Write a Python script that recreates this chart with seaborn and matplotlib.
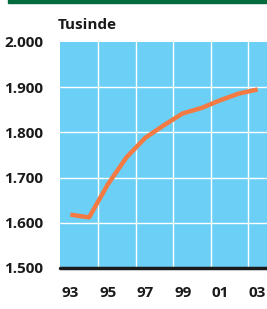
import matplotlib
matplotlib.use("Agg")
import matplotlib.pyplot as plt
import seaborn as sns
import pandas as pd

years = [93, 94, 95, 96, 97, 98, 99, 100, 101, 102, 103]
values = [1618, 1612, 1685, 1745, 1788, 1816, 1842, 1854, 1871, 1886, 1895]
ytick_vals = [1500, 1600, 1700, 1800, 1900, 2000]
ytick_labels = ["1.500", "1.600", "1.700", "1.800", "1.900", "2.000"]
xtick_vals = [93, 95, 97, 99, 101, 103]
xtick_labels = ["93", "95", "97", "99", "01", "03"]
unit_label = "Tusinde"

df = pd.DataFrame({"year": years, "value": values})

sns.set_theme(style="white")
plt.rcParams["font.family"] = ["Open Sans", "DejaVu Sans"]

fig = plt.figure(figsize=(2.67, 3.09), dpi=100)
ax = fig.add_axes([0.225, 0.1327, 0.775, 0.7314])
ax.set_facecolor("#6CCFF6")

sns.lineplot(data=df, x="year", y="value", ax=ax, color="#F47A44", linewidth=3.2,
             solid_capstyle="butt")

ax.set_xlim(92.45, 103.5)
ax.set_ylim(1500, 2000)
for x in [94.5, 96.5, 98.5, 100.5, 102.5]:
    ax.axvline(x, color="white", linewidth=1.0, zorder=0.5)
for y in [1600, 1700, 1800, 1900]:
    ax.axhline(y, color="white", linewidth=1.0, zorder=0.5)
ax.axhline(1500, color="#1a1a1a", linewidth=2.5, zorder=3, clip_on=False)

ax.set_yticks(ytick_vals)
ax.set_yticklabels(ytick_labels, fontsize=11, fontweight="bold", color="#1a1a1a")
ax.set_xticks(xtick_vals)
ax.set_xticklabels(xtick_labels, fontsize=11, fontweight="bold", color="#1a1a1a")
ax.tick_params(axis="both", length=0)
ax.tick_params(axis="y", pad=12)
ax.tick_params(axis="x", pad=13)
ax.set_xlabel("")
ax.set_ylabel("")
for s in ax.spines.values():
    s.set_visible(False)

fig.text(0.217, 0.918, unit_label, fontsize=11, fontweight="bold", color="#1a1a1a",
         ha="left", va="center")
fig.add_artist(plt.Rectangle((0.03, 0.99), 0.97, 0.012, transform=fig.transFigure,
                             color="#006B3F", clip_on=False))

fig.savefig("out.png", dpi=100)
